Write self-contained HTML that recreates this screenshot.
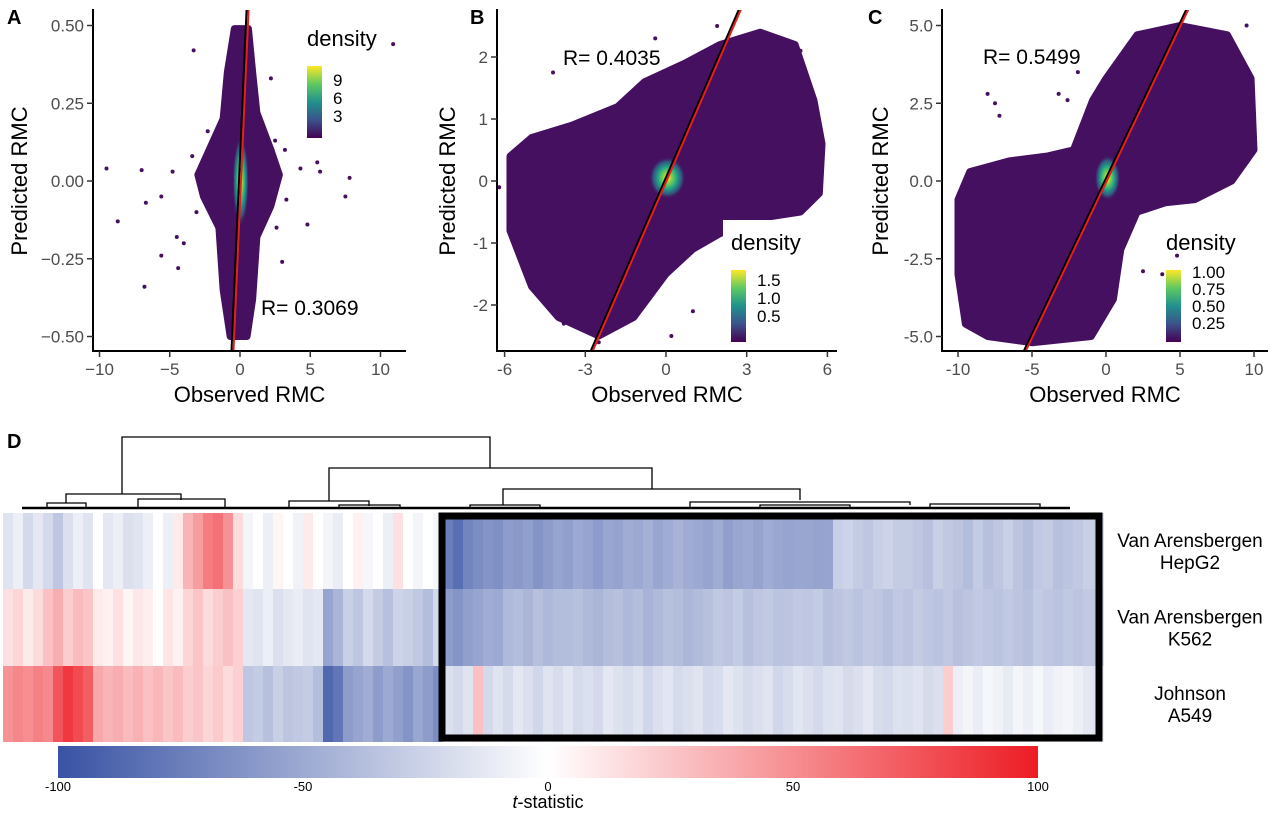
<!DOCTYPE html>
<html><head><meta charset="utf-8">
<style>
html,body{margin:0;padding:0;background:#fff;}
svg{display:block;font-family:"Liberation Sans",sans-serif;}
</style></head>
<body>
<svg id="fig" width="1280" height="816" viewBox="0 0 1280 816" xmlns="http://www.w3.org/2000/svg">
<defs>
<linearGradient id="viridis" x1="0" y1="1" x2="0" y2="0">
<stop offset="0" stop-color="#440154"/><stop offset="0.25" stop-color="#3b528b"/><stop offset="0.5" stop-color="#21918c"/><stop offset="0.75" stop-color="#5ec962"/><stop offset="1" stop-color="#fde725"/>
</linearGradient>
<radialGradient id="dens">
<stop offset="0" stop-color="#fde725"/><stop offset="0.25" stop-color="#7ad151"/><stop offset="0.5" stop-color="#22a884"/><stop offset="0.75" stop-color="#2a788e" stop-opacity="0.7"/><stop offset="1" stop-color="#440154" stop-opacity="0"/>
</radialGradient>
<linearGradient id="tbar" x1="0" x2="1" y1="0" y2="0">
<stop offset="0" stop-color="#3953a4"/><stop offset="0.5" stop-color="#ffffff"/><stop offset="1" stop-color="#ed1c24"/>
</linearGradient>
</defs>
<g id="panels"></g>
<g id="heat"></g>
</svg>
<script>
// ---------- scatter data ----------
const cloudA = [[-0.4,0.49],[0.6,0.49],[0.9,0.35],[1.2,0.22],[2.2,0.1],[2.8,0.02],[2.2,-0.08],[1.2,-0.18],[0.9,-0.38],[0.5,-0.5],[-0.7,-0.5],[-1.2,-0.35],[-1.5,-0.15],[-2.6,-0.05],[-3,0.02],[-2.2,0.1],[-1.2,0.2],[-0.9,0.35]];
const outA = [[-9.5,0.04],[-8.7,-0.13],[-7,0.035],[-6.8,-0.34],[-6.7,-0.07],[-5.6,-0.24],[-5.6,-0.05],[-4.4,-0.28],[-4.5,-0.18],[-3.3,0.42],[-4,-0.2],[7.8,0.01],[7.5,-0.05],[4.8,-0.14],[5.5,0.06],[5.7,0.03],[3,-0.26],[10.9,0.44],[2.5,0.13],[2.2,0.33],[3.2,0.1],[4.3,0.04],[-4.8,0.03],[-3.4,0.08],[-3.1,-0.1],[3.3,-0.06],[-2.3,0.16],[2.6,-0.15]];
const cloudB = [[-5.8,0.4],[-5.8,-0.8],[-5,-1.7],[-4,-2.2],[-2.5,-2.5],[-1.2,-2.2],[0,-1.5],[1,-1.1],[2,-0.85],[3.5,-0.6],[5,-0.5],[5.7,-0.2],[5.8,0.6],[5.5,1.3],[4.8,2.2],[3.5,2.4],[2,2.2],[0.7,1.9],[-0.8,1.6],[-1.8,1.2],[-3.5,0.9],[-5,0.7]];
const outB = [[-4.2,1.75],[-3.8,-2.3],[-2.5,-2.6],[1,-2.1],[0.2,-2.5],[3,-1.2],[1.9,2.5],[2.3,2.2],[-0.4,2.3],[5,2.1],[-6.2,-0.1]];
const cloudC = [[-9.2,0.3],[-10,-0.6],[-10,-3],[-9.5,-4.6],[-8,-5],[-5,-5.2],[-1,-5],[0.5,-3.8],[1,-2.2],[2.1,-1.0],[4,-0.7],[6,-0.6],[8.5,0],[10,1],[9.8,3.3],[8.2,4.7],[5,5],[2.1,4.7],[0,3.3],[-0.9,2.6],[-2.2,1],[-4,0.8],[-6.5,0.65]];
const outC = [[-8,2.8],[-7.5,2.5],[-7.2,2.1],[-3.2,2.8],[-1.9,3.5],[-2.6,2.6],[2.5,-2.9],[4.8,-2.4],[3.8,-3],[9.5,5]];
const denseA = [0.05, 0, 0.6, 0.15];
const denseB = [0.05, 0.05, 0.7, 0.35];
const denseC = [0.1, 0.1, 0.9, 0.75];
const fitA = [1.02, 0.0];
const fitB = [1.0, 0.02];
const fitC = [1.0, 0.02];
const xTicksA = [-10,-5,0,5,10], yTicksA = [0.5,0.25,0,-0.25,-0.5];
const yLabA = ["0.50","0.25","0.00","\u22120.25","\u22120.50"], xLabA = ["\u221210","\u22125","0","5","10"];
const xTicksB = [-6,-3,0,3,6], yTicksB = [2,1,0,-1,-2];
const xTicksC = [-10,-5,0,5,10], yTicksC = [5,2.5,0,-2.5,-5];
const yLabC = ["5.0","2.5","0.0","-2.5","-5.0"];
const legA = ["9","6","3"], legB = ["1.5","1.0","0.5"], legC = ["1.00","0.75","0.50","0.25"];

const NS = "http://www.w3.org/2000/svg";
function mk(tag, attrs, parent, txt){
  const e = document.createElementNS(NS, tag);
  for (const k in attrs) e.setAttribute(k, attrs[k]);
  if (txt !== undefined) e.textContent = txt;
  parent.appendChild(e); return e;
}
const panels = document.getElementById('panels');

function panel(o){
  const g = mk('g', {}, panels);
  
  
  const X = v => o.x0 + v*o.sx, Y = v => 181 - v*o.sy;
  const clipId = 'clip'+o.id;
  const cp = mk('clipPath', {id: clipId}, g);
  mk('rect', {x: o.ax, y: 10, width: o.axEnd-o.ax, height: 341}, cp);
  const plot = mk('g', {'clip-path': 'url(#'+clipId+')'}, g);
  const poly = mk('polygon', {points: o.cloud.map(p => X(p[0])+','+Y(p[1])).join(' '), fill:'#45105f', stroke:'#45105f','stroke-width':7,'stroke-linejoin':'round'}, plot);
  
  
  o.out.forEach(p => {
    const c = mk('circle', {cx: X(p[0]), cy: Y(p[1]), r: 2, fill: '#45105f'}, plot);
    
    
  });
  const d = o.dense;
  const el = mk('ellipse', {cx: X(d[0]), cy: Y(d[1]), rx: d[2]*o.sx, ry: d[3]*o.sy, fill: 'url(#dens)'}, plot);
  
  
  if (o.legBg) mk('rect', {x: o.leg[0]-8, y: o.leg[1]-30, width: 80, height: 120, fill: '#fff'}, g);
  const ya = o.yr[0], yb = o.yr[1];
  const xa = (ya - o.fit[1])/o.fit[0], xb = (yb - o.fit[1])/o.fit[0];
  mk('line', {x1: X(xa)-1, y1: Y(ya), x2: X(xb)-1, y2: Y(yb), stroke: '#000', 'stroke-width': 2}, plot);
  const fl = mk('line', {x1: X(xa)+1, y1: Y(ya), x2: X(xb)+1, y2: Y(yb), stroke: '#e3201b', 'stroke-width': 2}, plot);
  
  
  mk('line', {x1: o.ax, y1: 9, x2: o.ax, y2: 352, stroke: '#000', 'stroke-width': 2}, g);
  mk('line', {x1: o.ax-1, y1: 351, x2: o.axEnd, y2: 351, stroke: '#000', 'stroke-width': 2}, g);
  o.xt.forEach((v,i) => {
    mk('line', {x1: X(v), y1: 351, x2: X(v), y2: 357, stroke: '#333', 'stroke-width': 1.5}, g);
    const t = mk('text', {x: X(v), y: 375, 'text-anchor': 'middle', 'font-size': 17, fill: '#4d4d4d'}, g, o.xl ? o.xl[i] : String(v));
    
    
  });
  o.yt.forEach((v,i) => {
    mk('line', {x1: o.ax-6, y1: Y(v), x2: o.ax, y2: Y(v), stroke: '#333', 'stroke-width': 1.5}, g);
    const t = mk('text', {x: o.ax-9, y: Y(v)+6, 'text-anchor': 'end', 'font-size': 17, fill: '#4d4d4d'}, g, o.yl ? o.yl[i] : String(v));
    
    
  });
  const xt = mk('text', {x: (o.ax+o.axEnd)/2, y: 402, 'text-anchor': 'middle', 'font-size': 22}, g, 'Observed RMC');
  
  
  const yt = mk('text', {x: 0, y: 0, 'text-anchor': 'middle', 'font-size': 22, transform: 'translate('+o.ytx+',181) rotate(-90)'}, g, 'Predicted RMC');
  
  
  const lab = mk('text', {x: o.lab, y: 24, 'font-size': 20, 'font-weight': 'bold'}, g, o.id);
  
  
  const rt = mk('text', {x: o.r[0], y: o.r[1], 'font-size': 21}, g, o.rtext);
  
  
  const lg = mk('g', {}, g);
  
  
  mk('text', {x: o.leg[0], y: o.leg[1], 'font-size': 22}, lg, 'density');
  mk('rect', {x: o.leg[0], y: o.leg[1]+20, width: 15, height: 72, fill: 'url(#viridis)'}, lg);
  o.legL.forEach((s,i) => {
    mk('text', {x: o.leg[0]+26, y: o.leg[1]+o.legY0+i*o.legDy, 'font-size': 17}, lg, s);
  });
}
panel({id:'A', x0:240, sx:14.05, sy:311, ax:93, axEnd:406, cloud:cloudA, out:outA, dense:denseA, fit:fitA, yr:[-0.6,0.6],
  xt:xTicksA, yt:yTicksA, xl:xLabA, yl:yLabA, ytx:27, lab:7, r:[261,315], rtext:'R= 0.3069', leg:[307,46], legL:legA, legY0:40, legDy:18});
panel({id:'B', x0:666, sx:26.9, sy:62, ax:497, axEnd:837, cloud:cloudB, out:outB, dense:denseB, fit:fitB, yr:[-2.8,2.8],
  xt:xTicksB, yt:yTicksB, ytx:455, lab:470, r:[563,65], rtext:'R= 0.4035', leg:[731,250], legL:legB, legY0:36, legDy:18, legBg:true});
panel({id:'C', x0:1106, sx:14.8, sy:31.1, ax:942, axEnd:1268, cloud:cloudC, out:outC, dense:denseC, fit:fitC, yr:[-5.6,5.6],
  xt:xTicksC, yt:yTicksC, yl:yLabC, ytx:888, lab:868, r:[983,64], rtext:'R= 0.5499', leg:[1166,250], legL:legC, legY0:28, legDy:17});

// ---------- heatmap data ----------
const rowNames = [["Van Arensbergen","HepG2"],["Van Arensbergen","K562"],["Johnson","A549"]];
const hepg2 = [-10,-5,-15,-8, -15,-25,-12, -5,-10,0,-8,-5,-12,-10,-5,0,-5,5, 25,35,50, 55,40,10,
 -3,0,-5,2,0,-4,5,0,-3,-6,0,3,-2,0,-5,8,0,-3,0,-2, -70,-80,-65,-60,-55,-58, -50,-52,-48,-55,-50,
 -45,-48,-42,-45,-50,-44,-46, -40,-42,-38,-44,-40,-36,-40,-42, -45,-40,-48,-44,-42,-46,-40,-43,-45,-44,
 -44,-46,-45, -20,-18,-22,-25,-20,-18,-22, -22,-25,-28,-20,-24,-26,-30,-22,-28,-25,-20,-26,-30,-24,-22,-28,-26,-24,-20,-22];
const k562 = [8,12,5,10, 20,28,15, 22,18, 5,3,8,2,6,4,0,7,3, 12,18,10,15,20,14, -8,-10,-5,-12,-8,-6,-10,-8, -45,-35,
 -20,-25,-15,-22,-28,-18,-20,-24,-30,-15, -50,-55,-48,-45,-40,-42, -32,-30,-35,-28,-33,-30,
 -30,-28,-32,-35,-30,-28,-33,-30,-36,-32,-28,-30,-34,-31,
 -28,-24,-26,-22,-28,-25,-23,-27,-26,-24, -25,-22,-28,-26,-24,-27,-23,-25,-28,-24,
 -26,-22,-25,-27,-24,-28,-26,-23,-25,-27, -24,-26,-28,-22,-25,-27,-24,-26,-23,-25];
const a549 = [40,45,42,48,44, 70,85,75,65, 30,25,28,22,26,20,24,18,22, 15,18,12,16,10,14, -25,-22,-28,-20,-26,-24,-22,-30,
 -85,-75,-50, -45,-40,-50,-42,-48,-55,-44,-50,-60, -12,-15,-10, 20,
 -15,-10,-14,-8,-12,-16,-10,-13,-9,-14, -12,-15,-8,-11,-13,-10,-16,-12,-9,-14,
 -12,-10,-15,-13,-8,-11,-14,-12,-10,-16, -13,-9,-12,-15,-11,-10,-14,-12,-8,-13,
 -15,-11,-12,-10,-14,-12, 15, -5,-3,-6,-2,-4,-7,-3,-5,-2,-6,-4,-3,-5,-8,-10];
const heatRows = [hepg2, k562, a549];
const cbTicks = [-100,-50,0,50,100];
const boxCols = [44, 110];

const heat = document.getElementById('heat');
const HX0 = 3, HW = 1100, HY = [513,589,666,742];
const CX = v => 548 + v*4.9;
function col(v){
  const t = Math.min(1, Math.pow(Math.abs(v)/100, 0.8));
  const c = v < 0 ? [57,83,164] : [237,28,36];
  const m = i => Math.round(255 + (c[i]-255)*t);
  return 'rgb('+m(0)+','+m(1)+','+m(2)+')';
}
heatRows.forEach((row, r) => {
  const g = mk('g', {}, heat);
  
  
  const w = HW / row.length;
  row.forEach((v, i) => {
    const c = mk('rect', {x: HX0 + i*w, y: HY[r], width: w+0.6, height: HY[r+1]-HY[r], fill: col(v)}, g);
    
    
  });
  const lt = mk('text', {x: 1190, y: (HY[r]+HY[r+1])/2 - 4, 'text-anchor': 'middle', 'font-size': 19}, heat);
  
  
  mk('tspan', {x: 1190, dy: 0}, lt, rowNames[r][0]);
  mk('tspan', {x: 1190, dy: 22}, lt, rowNames[r][1]);
});
{
  const w = HW / hepg2.length;
  const b = mk('rect', {x: HX0 + boxCols[0]*w - 1, y: 516, width: (boxCols[1]-boxCols[0])*w - 3, height: 222, fill: 'none', stroke: '#000', 'stroke-width': 7}, heat);
  
  
}
const dg = mk('g', {stroke: '#000', 'stroke-width': 1.3, fill: 'none'}, heat);


const dendro = [
 [122,494,122,437,490,437,490,468],
 [66,503,66,494,181,494,181,500],
 [47,507,47,503,86,503,86,507],
 [138,507,138,499,225,499,225,507],
 [329,501,329,468,652,468,652,489],
 [289,507,289,501,369,501,369,506],
 [339,507,339,505,400,505,400,507],
 [503,505,503,489,800,489,800,500],
 [470,507,470,505,540,505,540,507],
 [690,507,690,502,910,502,910,505],
 [760,507,760,505,850,505,850,507],
 [930,507,930,504,1040,504,1040,507]
];
dendro.forEach(d => {
  const p = mk('polyline', {points: d[0]+','+d[1]+' '+d[2]+','+d[3]+' '+d[4]+','+d[5]+' '+d[6]+','+d[7]}, dg);
  
  
});
mk('line', {x1: 22, y1: 508, x2: 1070, y2: 508, 'stroke-width': 2.5}, dg);
const dl = mk('text', {x: 7, y: 448, 'font-size': 20, 'font-weight': 'bold'}, heat, 'D');


const cb = mk('rect', {x: CX(-100), y: 746, width: CX(100)-CX(-100), height: 32, fill: 'url(#tbar)'}, heat);


cbTicks.forEach(v => {
  const t = mk('text', {x: CX(v), y: 791, 'text-anchor': 'middle', 'font-size': 13}, heat, String(v));
  
  
});
const ct = mk('text', {x: CX(0), y: 808, 'text-anchor': 'middle', 'font-size': 18}, heat);


mk('tspan', {'font-style': 'italic'}, ct, 't');
mk('tspan', {}, ct, '-statistic');
</script>
</body></html>
